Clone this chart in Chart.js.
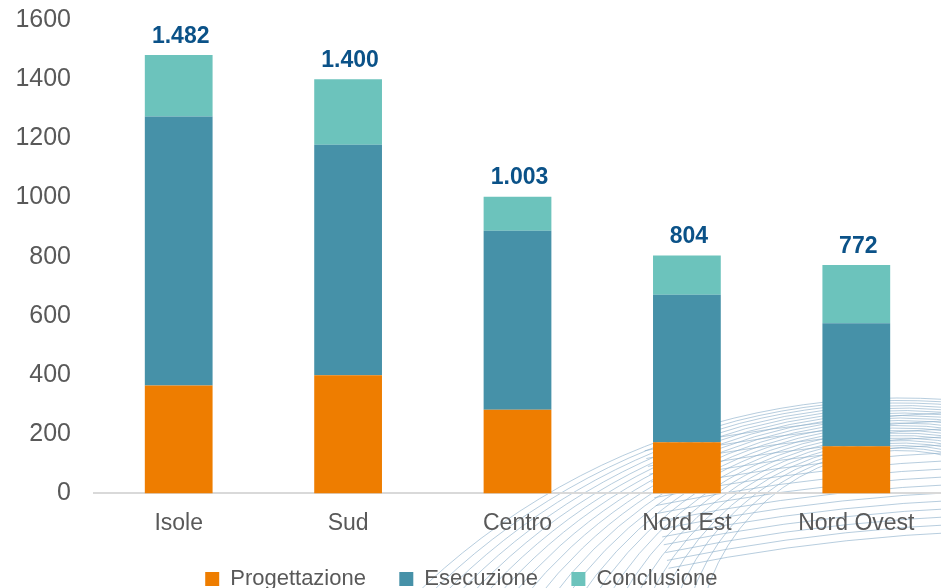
<!DOCTYPE html>
<html>
<head>
<meta charset="utf-8">
<script src="https://cdn.jsdelivr.net/npm/chart.js@4.4.1/dist/chart.umd.min.js"></script>
<style>
  html, body { margin: 0; padding: 0; background: #fff; }
  #wrap { width: 941px; height: 588px; }
</style>
</head>
<body>
<div id="wrap"><canvas id="showchart" width="941" height="588"></canvas></div>
<script>
var categories = ["Isole", "Sud", "Centro", "Nord Est", "Nord Ovest"];
var progettazione = [365, 399, 283, 173, 159];
var esecuzione = [909, 779, 605, 498, 416];
var conclusione = [208, 222, 115, 133, 197];
var totals = [1482, 1400, 1003, 804, 772];
var yTicks = [0, 200, 400, 600, 800, 1000, 1200, 1400, 1600];

function fmtIt(n) {
	return String(n).replace(/\B(?=(\d{3})+(?!\d))/g, ".");
}

// faint globe lines in the background, bottom right
var bgLines = {
	id: 'bgLines',
	beforeDraw: function(chart) {
		var c = chart.ctx;
		c.save();
		c.strokeStyle = 'rgba(145,178,205,0.65)';
		c.lineWidth = 1;
		// sweeping arcs from bottom left, over the top, down on the right
		for (var i = 0; i < 22; i++) {
			var t = 398 + i * 2.5;
			var bx = 410 + i * 14;
			var cx = 900;
			var dx = cx - bx, dy = 600 - t;
			var R = (dx * dx + dy * dy) / (2 * dy);
			var cy = t + R;
			var a0 = Math.atan2(600 - cy, bx - cx);
			c.beginPath();
			c.arc(cx, cy, R, a0, -Math.PI / 2 + 0.3);
			c.stroke();
		}
		// flat arcs lower right
		for (var j = 0; j < 16; j++) {
			var r = 1920 + j * 8;
			c.beginPath();
			c.arc(1050, 2450, r, -Math.PI / 2 - 0.2, -Math.PI / 2 + 0.05);
			c.stroke();
		}
		c.restore();
	}
};

var totalLabels = {
	id: 'totalLabels',
	afterDatasetsDraw: function(chart) {
		var c = chart.ctx;
		var meta = chart.getDatasetMeta(2);
		c.save();
		c.font = 'bold 23px "Liberation Sans", Arial, sans-serif';
		c.fillStyle = '#0B5288';
		c.textAlign = 'center';
		c.textBaseline = 'bottom';
		for (var i = 0; i < totals.length; i++) {
			var el = meta.data[i];
			c.fillText(fmtIt(totals[i]), el.x + 2, el.y - 7);
		}
		c.restore();
	}
};

var ctx = document.getElementById('showchart');
var barGraph = new Chart(ctx, {
	type: 'bar',
	data: {
		labels: categories,
		datasets: [
			{ label: 'Progettazione', data: progettazione, backgroundColor: '#EE7D00', borderWidth: 0 },
			{ label: 'Esecuzione', data: esecuzione, backgroundColor: '#4691A8', borderWidth: 0 },
			{ label: 'Conclusione', data: conclusione, backgroundColor: '#6CC3BC', borderWidth: 0 }
		]
	},
	options: {
		responsive: false,
		animation: false,
		layout: { padding: { top: 20, right: 0, left: 0, bottom: -12 } },
		datasets: { bar: { categoryPercentage: 1, barPercentage: 0.4 } },
		scales: {
			x: {
				stacked: true,
				grid: { display: false, drawTicks: false },
				border: { display: true, color: '#D9D9D9', width: 2 },
				ticks: { color: '#595959', padding: 16, font: { family: '"Liberation Sans", Arial, sans-serif', size: 23 } }
			},
			y: {
				stacked: true,
				min: 0,
				max: 1600,
				afterBuildTicks: function(scale) {
					scale.ticks = yTicks.map(function(v) { return { value: v }; });
				},
				afterFit: function(scale) {
					scale.width = 94;
					scale.paddingTop = 0;
					scale.paddingBottom = 0;
				},
				grid: { display: false, drawTicks: false },
				border: { display: false },
				ticks: {
					color: '#595959',
					padding: 23,
					font: { family: '"Liberation Sans", Arial, sans-serif', size: 25 },
					callback: function(v) { return String(v); }
				}
			}
		},
		plugins: {
			legend: {
				position: 'bottom',
				labels: {
					color: '#595959',
					boxWidth: 14,
					boxHeight: 14,
					padding: 15,
					font: { family: '"Liberation Sans", Arial, sans-serif', size: 22 },
					generateLabels: function(chart) {
						var items = Chart.defaults.plugins.legend.labels.generateLabels(chart);
						items.forEach(function(it) { it.text = it.text + '   '; it.lineWidth = 0; });
						return items;
					}
				}
			},
			tooltip: { enabled: false }
		}
	},
	plugins: [bgLines, totalLabels]
});
</script>
</body>
</html>
